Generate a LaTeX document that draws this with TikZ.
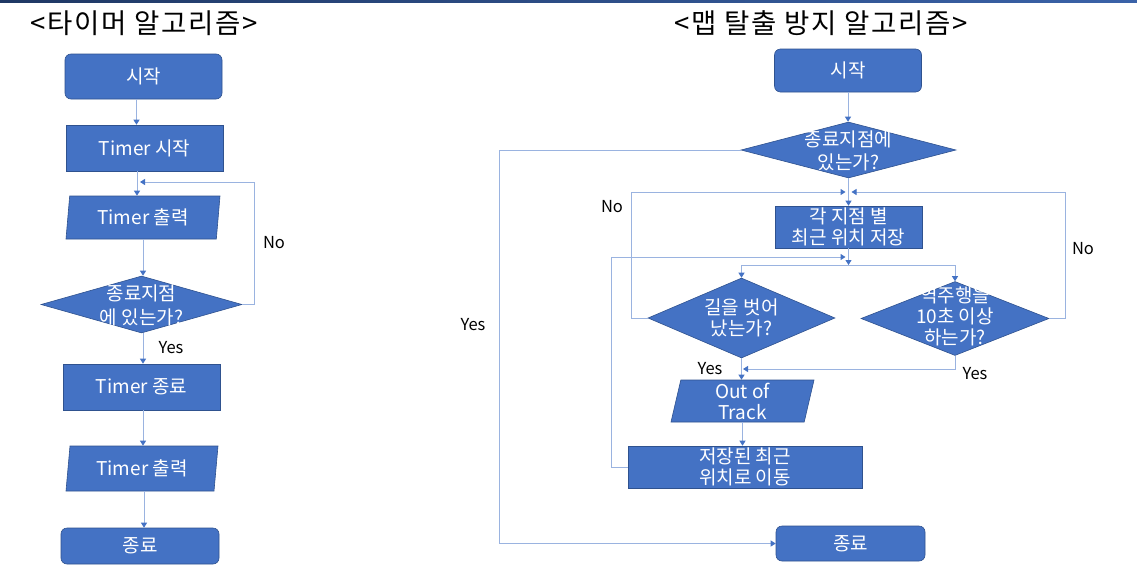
\documentclass[tikz,border=0pt]{standalone}
\usepackage{fontspec}
\setmainfont{Noto Sans CJK KR}
\newfontfamily\ttlfont[LetterSpace=6]{Noto Sans CJK KR}
\usetikzlibrary{shapes.geometric,arrows.meta}
\definecolor{fillblue}{HTML}{4472C4}
\definecolor{edgeblue}{HTML}{2F528F}
\definecolor{linkblue}{HTML}{9AB3E0}
\definecolor{tipblue}{HTML}{4472C4}
\definecolor{navyL}{HTML}{1F3864}
\definecolor{navyR}{HTML}{3A62A8}
\begin{document}
\begin{tikzpicture}[x=1pt,y=-1pt,
  box/.style={draw=edgeblue, line width=0.6pt, fill=fillblue, text=white,
    font=\fontsize{19}{21}\selectfont, align=center, inner sep=0pt},
  term/.style={box, rounded corners=6pt},
  rectbox/.style={box},
  para/.style={box, trapezium, trapezium stretches body},
  dia/.style={draw=edgeblue, line width=0.6pt, fill=fillblue, diamond, inner sep=0pt},
  dtxt/.style={text=white, font=\fontsize{19}{22}\selectfont, align=center, inner sep=0pt},
  lbl/.style={text=black, font=\fontsize{16.5}{19}\selectfont, inner sep=0pt},
  ttl/.style={text=black, font=\ttlfont\fontsize{27.5}{30}\selectfont, inner sep=0pt},
  arr/.style={draw=linkblue, line width=1pt, -{Triangle[width=6pt,length=5pt,color=tipblue]}}
]
\useasboundingbox (0,0) rectangle (1137,581);
\fill[white] (0,0) rectangle (1137,581);
\fill[left color=navyL, right color=navyR] (0,0) rectangle (1137,2);

% ---------- left: timer algorithm ----------
\node[ttl] (lttl) at (144,23) {<타이머 알고리즘>};
\node[term, minimum width=157pt, minimum height=45pt] (ls) at (143.5,76.5) {시작};
\node[rectbox, minimum width=157pt, minimum height=46pt] (lt) at (144.5,148) {Timer 시작};
\node[para, trapezium left angle=78, trapezium right angle=102,
  minimum width=154pt, minimum height=43pt] (lo1) at (143,217.5) {Timer 출력};
\node[dia, minimum width=201pt, minimum height=57pt] (ld) at (141.5,304.5) {};
\node[dtxt, font=\fontsize{19}{24}\selectfont] (ldt) at (141.5,305) {종료지점\\에 있는가?};
\node[rectbox, minimum width=157pt, minimum height=46pt] (le) at (141.5,387) {Timer 종료};
\node[para, trapezium left angle=77, trapezium right angle=103,
  minimum width=152pt, minimum height=45pt] (lo2) at (142,468.5) {Timer 출력};
\node[term, minimum width=158pt, minimum height=36pt] (lf) at (140,546) {종료};

\node[lbl] (lno) at (274,243) {No};
\node[lbl] (lyes) at (171,348) {Yes};

\coordinate (lj) at (140,182);
\draw[arr] ([xshift=-7pt]ls.south) -- ([xshift=-7pt]ls.south |- lt.north);
\draw[arr] ([xshift=-7.5pt]lt.south) -- ([xshift=-7.5pt]lt.south |- lo1.north);
\draw[arr] (ld.east) -- ++(12,0) |- (lj);
\draw[arr] (lo1.south) -- (lo1.south |- ld.north);
\draw[arr] ([xshift=1.5pt]ld.south) -- ([xshift=1.5pt]ld.south |- le.north);
\draw[arr] ([xshift=1.5pt]le.south) -- ([xshift=1.5pt]le.south |- lo2.north);
\draw[arr] ([xshift=2pt]lo2.south) -- ([xshift=2pt]lo2.south |- lf.north);

% ---------- right: map escape prevention ----------
\node[ttl] (rttl) at (821,23) {<맵 탈출 방지 알고리즘>};
\node[term, minimum width=147pt, minimum height=43pt] (rs) at (848,70.5) {시작};
\node[dia, minimum width=215pt, minimum height=56pt] (rd1) at (848.5,150) {};
\node[dtxt, font=\fontsize{19}{23}\selectfont] (rd1t) at (848.5,151) {종료지점에\\있는가?};
\node[rectbox, minimum width=147pt, minimum height=42pt] (rsave) at (848.5,227) {각 지점 별\\최근 위치 저장};
\node[dia, minimum width=187pt, minimum height=80pt] (rd2) at (741.5,318) {};
\node[dtxt, font=\fontsize{19}{21}\selectfont] (rd2t) at (741.5,318) {길을 벗어\\났는가?};
\node[dia, minimum width=188pt, minimum height=74pt] (rd3) at (955,318.5) {};
\node[dtxt, font=\fontsize{19}{21}\selectfont] (rd3t) at (955,316) {역주행을\\10초 이상\\하는가?};
\node[para, trapezium left angle=75, trapezium right angle=105,
  minimum width=143pt, minimum height=42pt] (rout) at (742.5,401) {Out of\\Track};
\node[rectbox, minimum width=234pt, minimum height=42pt] (rmove) at (745,467) {저장된 최근\\위치로 이동};
\node[term, minimum width=149pt, minimum height=35pt] (rend) at (850.5,543.5) {종료};

\node[lbl] (ryes1) at (473,325) {Yes};
\node[lbl] (rno1) at (612,207) {No};
\node[lbl] (rno2) at (1083,249) {No};
\node[lbl] (ryes2) at (710,369) {Yes};
\node[lbl] (ryes3) at (975,374) {Yes};

\coordinate (rjA) at (848.5,192);
\coordinate (rjB) at (848.5,265);
\coordinate (rjC) at (845.5,257);
\coordinate (rjD) at (743,369);

\draw[arr] (rs.south) -- (rs.south |- rd1.north);
\draw[arr] (rd1.west) -- ++(-241.5,0) |- (rend.west);
\draw[arr] (rd1.south) -- (rsave.north);
\draw[arr] (rd2.west) -- ++(-16.5,0) |- ([xshift=-3pt]rjA);
\draw[arr] (rd3.east) -- ++(16.5,0) |- ([xshift=3pt]rjA);
\draw[arr] (rsave.south) -- (rjB);
\draw[arr] (rjB) -| (rd2.north);
\draw[arr] (rjB) -| (rd3.north);
\draw[arr] (rmove.west) -- ++(-16,0) |- (rjC);
\draw[arr] (rd2.south) -- (rd2.south |- rout.north);
\draw[arr] (rd3.south) |- (rjD);
\draw[arr] (rout.south) -- (rout.south |- rmove.north);
\end{tikzpicture}
\end{document}
